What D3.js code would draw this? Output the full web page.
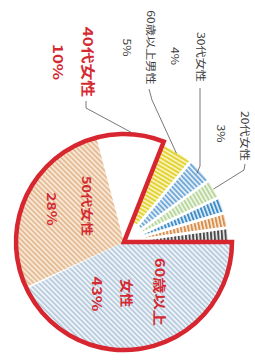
<!DOCTYPE html>
<html><head><meta charset="utf-8">
<script src="https://cdn.jsdelivr.net/npm/d3@7"></script>
<style>html,body{margin:0;padding:0;background:#fff;}svg{display:block;}</style>
</head><body>
<svg id="c" width="255" height="360"></svg>
<script>
const categories = ["60歳以上女性","50代女性","40代女性","60歳以上男性","30代女性","20代女性","その他A","その他B","その他C"];
const values = [43, 28, 10, 5, 4, 3, 2.5, 2.3, 2.2];
const stripeColors = ["#b3c8dc","#e3b68c","#ffffff","#e2d232","#72a9d6","#b9d69c","#3f8dc8","#d98f4c","#4a4a4a"];
const bgColors = ["#eef3f7","#f7e7d6","#ffffff","#fbf6c8","#eef5fb","#f3f9ee","#e8f1f9","#fbeee2","#f2f2f2"];
const pctLabels = ["43%","28%","10%","5%","4%","3%"];

const svg = d3.select("#c");
const cx = 124, cy = 242, R = 108;
const g = svg.append("g").attr("transform", `translate(${cx},${cy})`);

const pie = d3.pie().sort(null).value(d => d)
  .startAngle(Math.PI / 2).endAngle(Math.PI / 2 + 2 * Math.PI);
const arcsData = pie(values);

const defs = svg.append("defs");
arcsData.forEach((d, i) => {
  const mid = (d.startAngle + d.endAngle) / 2;
  const screenDeg = mid * 180 / Math.PI - 90;
  const rot = i < 3 ? -45 : screenDeg;
  const p = defs.append("pattern").attr("id", "pat" + i)
    .attr("patternUnits", "userSpaceOnUse").attr("width", 3.6).attr("height", 3.6)
    .attr("patternTransform", `rotate(${rot})`);
  p.append("rect").attr("width", 3.6).attr("height", 3.6).attr("fill", bgColors[i]);
  p.append("rect").attr("x", 0).attr("width", i < 3 ? 1.6 : 2).attr("height", 3.6).attr("fill", stripeColors[i]);
});

const mainArc = d3.arc().innerRadius(0).outerRadius(R - 1).padAngle(0.016);
const smallArc = d3.arc().innerRadius(22).outerRadius(104).padAngle(0.028);

g.selectAll("path.slice").data(arcsData).join("path")
  .attr("class", "slice")
  .attr("d", (d, i) => i < 3 ? mainArc(d) : smallArc(d))
  .attr("fill", (d, i) => `url(#pat${i})`);

// red outline around female group
const outline = d3.arc().innerRadius(0).outerRadius(R);
g.append("path")
  .attr("d", outline({startAngle: arcsData[0].startAngle, endAngle: arcsData[2].endAngle}))
  .attr("fill", "none").attr("stroke", "#d7262f").attr("stroke-width", 4.5)
  .attr("stroke-linejoin", "miter");

// leader lines
function pt(d, r) {
  const a = (d.startAngle + d.endAngle) / 2;
  return [cx + Math.sin(a) * r, cy - Math.cos(a) * r];
}
const leaders = [
  {idx: 2, pts: [[86, 101], [86, 108]], r: 110},
  {idx: 3, pts: [[149, 89], [152, 100]], r: 103},
  {idx: 4, pts: [[200, 88], [200, 166]], r: 100},
  {idx: 5, pts: [[245, 164], [244, 170]], r: 104}
];
leaders.forEach(l => {
  const all = l.pts.concat([pt(arcsData[l.idx], l.r)]);
  svg.append("path").attr("d", d3.line()(all))
    .attr("fill", "none").attr("stroke", "#555").attr("stroke-width", 0.8);
});

// rotated labels
function label(txt, x, y, size, weight, color, sx) {
  svg.append("text")
    .attr("transform", `translate(${x},${y}) rotate(90) scale(${sx},1)`)
    .attr("text-anchor", "middle").attr("dominant-baseline", "central")
    .attr("font-family", "'Noto Sans CJK JP', 'Noto Sans', sans-serif")
    .attr("font-size", size).attr("font-weight", weight).attr("fill", color)
    .text(txt);
}
const red = "#d42a32", gray = "#3a3a3a";
label("40代女性", 89, 62, 13.5, 700, red, 1.25);
label(pctLabels[2], 59, 62, 13.5, 700, red, 1.25);
label("50代女性", 87, 206, 12, 700, red, 1.2);
label(pctLabels[1], 52.5, 209, 12.5, 700, red, 1.25);
label("60歳以上", 161, 292, 13, 700, red, 1.25);
label("女性", 128, 293, 13, 700, red, 1.1);
label(pctLabels[0], 98, 294, 13, 700, red, 1.25);

label("60歳以上男性", 151.5, 47.5, 10, 400, gray, 1.22);
label(pctLabels[3], 127, 47.5, 10, 400, gray, 1.22);
label("30代女性", 201, 57, 10, 400, gray, 1.22);
label(pctLabels[4], 175, 56, 10, 400, gray, 1.22);
label("20代女性", 245, 136, 10, 400, gray, 1.22);
label(pctLabels[5], 221, 133.5, 10, 400, gray, 1.22);
</script>
</body></html>
